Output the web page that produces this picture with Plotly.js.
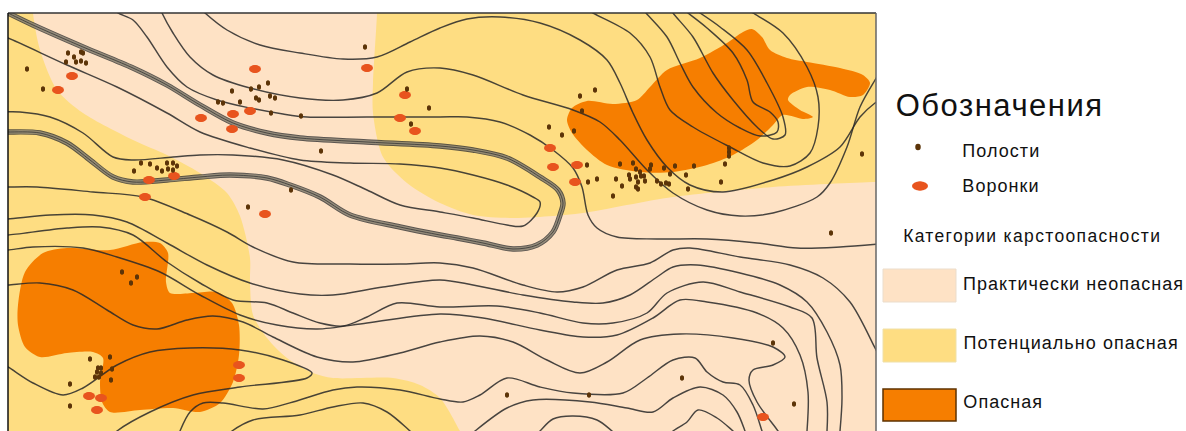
<!DOCTYPE html>
<html><head><meta charset="utf-8">
<script src="https://cdn.plot.ly/plotly-3.0.1.min.js"></script>
<style>html,body{margin:0;padding:0;background:#fff}#c{width:1186px;height:431px}
#c .annotation text{letter-spacing:1.05px}
#c .annotation[data-index="0"] text{letter-spacing:1.5px}
#c .annotation[data-index="3"] text{letter-spacing:1.35px}
#c .annotation[data-index="6"] text{letter-spacing:1.05px}
</style>
</head><body><div id="c"></div>
<script>
// Zones (map coordinates)
const safeZone=[[33,0],[33,13],[40,50],[57,90],[83,113],[133,140],[167,155],[200,173],[227,193],[240,216],[250,258],[250,282],[253,315],[267,338],[287,358],[313,373],[333,378],[393,378],[420,385],[440,398],[460,431],[470,450],[900,450],[900,182],[876,182],[773,187],[673,197],[583,213],[553,216],[513,218],[473,215],[440,203],[407,183],[383,157],[373,113],[373,83],[377,13],[377,0],[33,0]];
const dangerNE=[[752,29],[762,37],[770,50],[787,58],[807,62],[840,68],[863,75],[870,83],[863,95],[850,97],[830,90],[807,87],[790,95],[788,100],[800,110],[813,117],[803,119],[783,115],[773,125],[757,140],[733,155],[707,165],[673,172],[640,172],[607,165],[587,150],[572,133],[567,120],[572,108],[587,101],[613,104],[637,100],[650,87],[667,70],[700,58],[727,43],[743,32],[752,29]];
const dangerSW=[[43,253],[67,248],[110,250],[143,242],[160,243],[168,253],[166,282],[170,293],[193,293],[217,292],[232,303],[239,325],[239,355],[233,382],[220,403],[200,412],[173,408],[140,410],[110,412],[102,402],[100,382],[103,358],[93,352],[67,353],[40,357],[25,347],[18,325],[18,305],[25,272],[43,253]];
// Doubled band contour
const bandLine=[[4,11],[8,13],[33,25],[83,47],[133,68],[167,85],[200,105],[233,123],[267,133],[300,138],[367,142],[440,146],[473,150],[507,158],[540,177],[558,190],[563,203],[560,215],[553,232],[537,245],[513,249],[483,243],[457,238],[440,235],[400,227],[350,215],[320,197],[290,185],[267,178],[230,175],[200,177],[167,180],[133,182],[113,177],[90,160],[67,143],[40,133],[8,132],[2,132]];
// Contours
const contourB=[[2,36],[8,38],[67,65],[117,87],[167,113],[200,132],[250,148],[300,160],[350,163],[400,164],[440,168],[473,175],[507,185],[533,197],[540,202],[537,213],[523,226],[507,225],[473,218],[440,212],[400,205],[367,190],[333,175],[283,160],[233,155],[200,155],[173,157],[133,160],[113,157],[83,133],[50,117],[20,112],[2,112]];
const contourC=[[112,8],[118,13],[133,20],[147,37],[167,67],[187,87],[217,100],[250,108],[283,114],[307,117],[367,117],[440,117],[467,117],[500,122],[530,135],[553,150],[573,168],[582,187],[588,215],[597,228],[617,237],[657,239],[707,239],[757,243],[797,248],[840,247],[880,244]];
const contourD=[[160,8],[162,13],[173,33],[190,57],[213,75],[250,88],[300,98],[343,100],[377,93],[407,72],[440,68],[473,75],[523,95],[573,110],[600,122],[620,140],[647,170],[673,193],[707,210],[740,216],[773,213],[817,197],[830,183],[847,147],[860,107],[875,80],[880,72]];
const contourE=[[200,8],[205,13],[227,30],[260,45],[300,53],[343,59],[377,57],[410,42],[440,28],[467,19],[500,17],[540,23],[580,40],[607,60],[620,83],[633,113],[647,140],[667,167],[690,185],[723,192],[773,180],[807,167],[840,147],[860,117],[875,103],[880,100]];
const contourF=[[585,8],[593,13],[630,33],[650,57],[660,87],[670,110],[693,127],[730,147],[763,163],[790,166],[810,153],[818,127],[818,97],[807,67],[783,33],[753,13],[745,8]];
const contourG=[[642,8],[646,13],[667,37],[680,63],[693,87],[717,113],[740,128],[760,136],[777,132],[778,122],[770,112],[753,102],[747,80],[733,53],[707,28],[688,13],[682,8]];
const contourH=[[670,8],[673,13],[693,37],[713,73],[733,100],[757,127],[773,139],[785,135],[783,117],[767,83],[747,50],[720,27],[700,13],[692,8]];
const contour1=[[2,187],[8,187],[37,187],[93,192],[143,197],[190,215],[227,232],[253,247],[293,262],[350,264],[400,264],[440,263],[473,268],[523,285],[557,292],[583,287],[617,270],[650,263],[673,250],[690,248],[740,257],[790,265],[823,278],[850,302],[875,348],[880,358]];
const contour2=[[2,219],[8,219],[50,215],[93,215],[127,222],[167,243],[207,265],[250,283],[300,294],[333,295],[383,287],[440,280],[473,285],[523,295],[573,302],[603,303],[630,295],[657,277],[673,267],[697,265],[740,273],[780,285],[807,302],[827,332],[840,365],[842,398],[840,431],[839,440]];
const contour3=[[2,235],[8,235],[67,228],[100,227],[133,235],[167,262],[200,283],[233,300],[267,303],[293,313],[320,323],[343,326],[367,317],[397,303],[440,307],[497,306],[540,313],[583,323],[613,323],[647,313],[667,293],[703,282],[740,292],[790,307],[812,318],[817,358],[827,402],[827,431],[826,440]];
const contour4=[[2,250],[8,250],[33,247],[83,248],[117,257],[160,272],[200,295],[240,315],[277,325],[317,329],[367,323],[440,314],[483,318],[540,330],[583,337],[617,335],[653,318],[680,300],[707,302],[757,313],[783,328],[800,355],[808,392],[807,431],[806,440]];
const contour5=[[2,285],[8,285],[40,283],[73,290],[107,310],[133,325],[157,329],[187,320],[213,316],[243,322],[273,337],[317,357],[353,362],[400,353],[440,342],[480,336],[513,342],[547,360],[580,373],[607,362],[640,340],[680,334],[733,338],[773,347],[785,357],[773,365],[753,370],[749,380],[757,402],[778,431],[784,440]];
const contour6=[[2,364],[8,367],[33,383],[63,395],[83,388],[117,365],[150,352],[190,348],[240,350],[283,360],[312,373],[307,378],[240,387],[193,395],[150,412],[117,431],[108,440]];
const contour7=[[177,440],[180,431],[190,412],[203,403],[223,403],[263,409],[293,402],[333,390],[357,387],[400,390],[440,399],[463,402],[480,395],[507,378],[540,387],[573,393],[623,393],[647,378],[673,360],[695,358],[707,372],[723,382],[740,385],[753,405],[762,431],[765,440]];
const contour8=[[222,440],[232,431],[253,420],[300,415],[333,407],[363,403],[387,412],[410,431],[420,440]];
const contour9=[[465,440],[475,431],[507,408],[533,400],[590,402],[627,408],[653,412],[673,398],[700,387],[723,395],[737,412],[745,431],[748,440]];
const contour10=[[532,440],[540,431],[553,419],[573,416],[597,420],[612,431],[622,440]];
const contour11=[[664,440],[673,431],[687,422],[698,410],[717,418],[733,431],[743,440]];
// Points
const cavities=[[68,53],[81,52],[83,53],[74,57],[66,62],[76,62],[81,61],[86,63],[27,69],[43,89],[232,91],[251,89],[259,87],[268,83],[270,96],[275,98],[256,98],[259,100],[240,102],[218,102],[223,103],[271,113],[301,116],[365,47],[407,89],[429,108],[411,124],[321,151],[141,163],[150,164],[167,163],[173,163],[177,166],[157,168],[168,169],[173,170],[162,171],[134,171],[291,190],[248,207],
[595,90],[580,96],[582,111],[549,127],[562,135],[574,131],[587,165],[588,182],[597,179],[613,196],[616,179],[622,186],[620,164],[633,163],[636,169],[640,172],[629,175],[630,179],[636,177],[641,176],[644,176],[645,181],[638,182],[636,187],[638,189],[651,165],[650,169],[664,168],[675,166],[694,166],[670,174],[686,175],[657,181],[661,184],[666,183],[669,184],[688,189],[721,182],[725,164],[729,148],[729,152],[729,156],[862,154],
[122,272],[137,277],[131,283],[90,359],[110,357],[98,368],[101,368],[112,369],[97,372],[101,373],[95,377],[99,377],[111,380],[70,384],[70,406],
[831,233],[773,343],[682,378],[507,395],[589,395],[794,404]];
const sinkholes=[[72,76],[58,90],[255,69],[367,68],[405,95],[400,118],[415,131],[250,111],[233,114],[201,118],[232,129],[174,176],[149,180],[145,197],[265,214],[550,148],[577,165],[553,167],[575,182],[239,365],[239,378],[89,396],[101,398],[97,410],[763,417]];
// Legend
const legendTitle='Обозначения';
const legendPoints=['Полости','Воронки'];
const legendSubtitle='Категории карстоопасности';
const legendZones=['Практически неопасная','Потенциально опасная','Опасная'];

const PEACH='#FEE2C5',YEL='#FEDD82',ORG='#F67E00',FUN='#E8541E',CAV='#5C3408';
const xs=a=>a.map(p=>p[0]), ys=a=>a.map(p=>p[1]);
const traces=[];
function zone(a,col,name){traces.push({x:xs(a),y:ys(a),type:'scatter',mode:'lines',fill:'toself',fillcolor:col,line:{width:0,color:col,shape:'spline',smoothing:0.8},name:name,hoverinfo:'name'});}
traces.push({x:[0,900,900,0,0],y:[0,0,450,450,0],type:'scatter',mode:'lines',fill:'toself',fillcolor:YEL,line:{width:0,color:YEL},name:legendZones[1],hoverinfo:'name'});
zone(safeZone,PEACH,legendZones[0]);
zone(dangerNE,ORG,legendZones[2]);
zone(dangerSW,ORG,legendZones[2]);
function line(a,w,c){traces.push({x:xs(a),y:ys(a),type:'scatter',mode:'lines',line:{width:w,color:c,shape:'spline',smoothing:0.9},hoverinfo:'skip'});}
[contourB,contourC,contourD,contourE,contourF,contourG,contourH,contour1,contour2,contour3,contour4,contour5,contour6,contour7,contour8,contour9,contour10,contour11].forEach(a=>line(a,1.45,'rgba(40,40,40,0.85)'));
line(bandLine,5.4,'rgba(50,50,50,0.8)');
line(bandLine,3.6,'rgba(235,220,185,0.4)');
line(bandLine,1,'rgba(50,50,50,0.75)');
traces.push({x:xs(sinkholes),y:ys(sinkholes),type:'scatter',mode:'markers',marker:{size:7.5,color:FUN},name:legendPoints[1]});
traces.push({x:xs(cavities),y:ys(cavities),type:'scatter',mode:'markers',marker:{size:4,color:CAV},name:legendPoints[0]});

const shapes=[];
function ell(cx,cy,w,h,col,xr,yr){shapes.push({type:'circle',xref:xr,yref:yr,x0:cx-w/2,x1:cx+w/2,y0:cy-h/2,y1:cy+h/2,fillcolor:col,line:{width:0},layer:'above'});}
sinkholes.forEach(p=>ell(p[0],p[1],12,8,FUN,'x','y'));
cavities.forEach(p=>ell(p[0],p[1],4,5.6,CAV,'x','y'));
// legend glyphs and frame in page coordinates
ell(918,147,5.5,6.5,'#5C3408','x2','y2');
ell(920,186,16,9,FUN,'x2','y2');
function rect(x0,y0,x1,y1,f,l,w){shapes.push({type:'rect',xref:'x2',yref:'y2',x0,x1,y0,y1,fillcolor:f,line:{color:l,width:w},layer:'above'});}
rect(883,269,956,302,PEACH,'#EBDDCC',1);
rect(883,329,956,362,YEL,'#EFE0A8',1);
rect(883,389,956,421,ORG,'#5E3200',1.5);
function seg(x0,y0,x1,y1,c,w){shapes.push({type:'line',xref:'x2',yref:'y2',x0,x1,y0,y1,line:{color:c,width:w},layer:'above'});}
seg(8,13,876,13,'#333',1.5);
seg(8,13,8,431,'#111',1.5);
seg(876,13,876,431,'#666',1.5);

const F='Liberation Sans, Arial, sans-serif';
function label(t,x,y,s){return {text:t,xref:'x2',yref:'y2',x:x,y:y,xanchor:'left',yanchor:'middle',showarrow:false,font:{family:F,size:s,color:'#111'}};}
const annotations=[
 label(legendTitle,902,105,31),
 label(legendPoints[0],964,151,18),
 label(legendPoints[1],964,186,18),
 label(legendSubtitle,918,236,17.5),
 label(legendZones[0],972,284,18),
 label(legendZones[1],972,343,18),
 label(legendZones[2],965,402,18)
];
const W=1186,H=431;
const layout={width:W,height:H,margin:{l:0,r:0,t:0,b:0},showlegend:false,paper_bgcolor:'#fff',plot_bgcolor:'rgba(0,0,0,0)',
 xaxis:{domain:[8/W,876/W],range:[8,876],visible:false,fixedrange:true},
 yaxis:{domain:[0,1-13/H],range:[431,13],visible:false,fixedrange:true},
 xaxis2:{domain:[0,1],range:[0,W],visible:false,fixedrange:true,anchor:'y2'},
 yaxis2:{domain:[0,1],range:[H,0],visible:false,fixedrange:true,anchor:'x2'},
 shapes:shapes,annotations:annotations,hovermode:'closest'};
// the legend glyph trace registers the page-coordinate subplot
traces.push({x:[920],y:[186],xaxis:'x2',yaxis:'y2',type:'scatter',mode:'markers',marker:{size:9,color:FUN},hoverinfo:'skip'});
Plotly.newPlot('c',traces,layout,{displayModeBar:false,staticPlot:true});
</script></body></html>
